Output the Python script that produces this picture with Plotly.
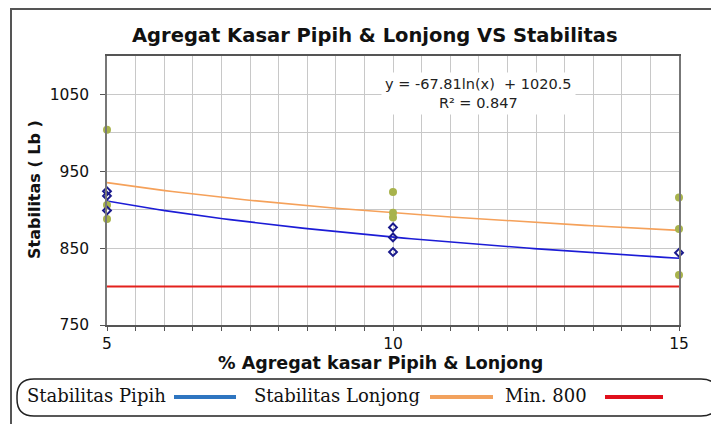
import numpy as np
import plotly.graph_objects as go

# ---- data ----
pipih_x = [5, 5, 5, 10, 10, 10, 15]
pipih_y = [924, 918, 899, 877, 864, 845, 844]
lonjong_x = [5, 5, 5, 10, 10, 10, 15, 15, 15]
lonjong_y = [1004, 906, 888, 923, 896, 890, 916, 875, 815]
min_x = [5, 15]
min_y = [800, 800]
# displayed trendline equation (Stabilitas Pipih)
pipih_a = -67.81
pipih_b = 1020.5
pipih_r2 = 0.847
x_ticks = [5, 10, 15]
y_ticks = [750, 850, 950, 1050]

# Lonjong log trendline fitted from its points
lon_a, lon_b = np.polyfit(np.log(lonjong_x), lonjong_y, 1)
xf = np.linspace(5, 15, 80)

# ---- layout geometry (screen pixels; page body has an 8px margin) ----
OFF = 8
SCR_W, SCR_H = 719, 424
L, R, T, B = 107, 679, 56, 325
PW, PH = R - L, B - T


def px(xp):
    return (xp - L) / PW


def py(yp):
    return (B - yp) / PH


SANS = "DejaVu Sans, Arial, sans-serif"
SERIF = "DejaVu Serif, Liberation Serif, serif"

fig = go.Figure()
fig.add_trace(go.Scatter(x=min_x, y=min_y, mode="lines",
                         line=dict(color="#E3211C", width=2), showlegend=False))
fig.add_trace(go.Scatter(x=xf, y=lon_a * np.log(xf) + lon_b, mode="lines",
                         line=dict(color="#F5A15A", width=1.6), showlegend=False))
fig.add_trace(go.Scatter(x=xf, y=pipih_a * np.log(xf) + pipih_b, mode="lines",
                         line=dict(color="#1C1CD6", width=1.6), showlegend=False))
fig.add_trace(go.Scatter(x=lonjong_x, y=lonjong_y, mode="markers", cliponaxis=False,
                         marker=dict(symbol="circle", size=8, color="#A8B34C"),
                         showlegend=False))
fig.add_trace(go.Scatter(x=pipih_x, y=pipih_y, mode="markers", cliponaxis=False,
                         marker=dict(symbol="diamond-open", size=6, color="#1A1A8C",
                                     line=dict(width=2, color="#1A1A8C")),
                         showlegend=False))

axis_font = dict(family=SANS, size=15.5, color="#111")
fig.update_xaxes(range=[5, 15], tickvals=x_ticks, ticktext=[str(v) for v in x_ticks],
                 showgrid=True, gridcolor="#C8C8C8", gridwidth=1,
                 minor=dict(dtick=0.5, tick0=5, showgrid=True, gridcolor="#C8C8C8",
                            ticks="outside", ticklen=4, tickcolor="#555"),
                 ticks="outside", ticklen=4, tickcolor="#555",
                 showline=True, linecolor="#555", linewidth=1.5, mirror=True,
                 zeroline=False, tickfont=axis_font, ticklabelstandoff=0)
fig.update_yaxes(range=[750, 1100], tickvals=y_ticks, ticktext=[str(v) for v in y_ticks],
                 showgrid=True, gridcolor="#C8C8C8", gridwidth=1,
                 minor=dict(dtick=50, tick0=750, showgrid=True, gridcolor="#C8C8C8"),
                 ticks="outside", ticklen=5, tickcolor="#555",
                 showline=True, linecolor="#777", linewidth=1.5, mirror=True,
                 zeroline=False, tickfont=axis_font, ticklabelstandoff=8)

shapes = []
# outer chart border
shapes.append(dict(type="rect", xref="paper", yref="paper",
                   x0=px(11), x1=px(724), y0=py(430), y1=py(9),
                   line=dict(color="#555", width=2), layer="below"))
# rounded legend box
lx0, lx1, ly0, ly1, r = 17, 718, 379, 416, 17
path = (f"M {px(lx0 + r)},{py(ly0)} L {px(lx1 - r)},{py(ly0)} "
        f"Q {px(lx1)},{py(ly0)} {px(lx1)},{py(ly0 + r)} "
        f"L {px(lx1)},{py(ly1 - r)} Q {px(lx1)},{py(ly1)} {px(lx1 - r)},{py(ly1)} "
        f"L {px(lx0 + r)},{py(ly1)} Q {px(lx0)},{py(ly1)} {px(lx0)},{py(ly1 - r)} "
        f"L {px(lx0)},{py(ly0 + r)} Q {px(lx0)},{py(ly0)} {px(lx0 + r)},{py(ly0)} Z")
shapes.append(dict(type="path", xref="paper", yref="paper", path=path,
                   line=dict(color="#222", width=1.5)))
legend_items = [("Stabilitas Pipih", 25, 174, 236, "#2E75C0"),
                ("Stabilitas Lonjong", 252, 430, 493, "#F2A25E"),
                ("Min. 800", 503, 605, 663, "#E0101C")]
annotations = []
for name, tx, l0, l1, col in legend_items:
    shapes.append(dict(type="line", xref="paper", yref="paper",
                       x0=px(l0), x1=px(l1), y0=py(397), y1=py(397),
                       line=dict(color=col, width=4)))
    annotations.append(dict(text=name, xref="paper", yref="paper", x=px(tx), y=py(395),
                            xanchor="left", yanchor="middle", showarrow=False,
                            font=dict(family=SERIF, size=18, color="#111")))

annotations.append(dict(text="<b>Agregat Kasar Pipih & Lonjong VS Stabilitas</b>",
                        xref="paper", yref="paper", x=px(375), y=py(35),
                        xanchor="center", yanchor="middle", showarrow=False,
                        font=dict(family=SANS, size=19.5, color="#111")))
annotations.append(dict(text="<b>% Agregat kasar Pipih & Lonjong</b>",
                        xref="paper", yref="paper", x=px(380), y=py(363),
                        xanchor="center", yanchor="middle", showarrow=False,
                        font=dict(family=SANS, size=17.5, color="#111")))
annotations.append(dict(text="<b>Stabilitas ( Lb )</b>", textangle=-90,
                        xref="paper", yref="paper", x=px(34), y=py(190),
                        xanchor="center", yanchor="middle", showarrow=False,
                        font=dict(family=SANS, size=16, color="#111")))
annotations.append(dict(text=f"y = {pipih_a:.2f}ln(x)  + {pipih_b}<br>R² = {pipih_r2}",
                        xref="paper", yref="paper", x=px(478), y=py(93),
                        xanchor="center", yanchor="middle", showarrow=False,
                        bgcolor="white", borderpad=3,
                        font=dict(family=SANS, size=14.5, color="#222")))

fig.update_layout(width=SCR_W - OFF, height=SCR_H - OFF,
                  margin=dict(l=L - OFF, r=SCR_W - R, t=T - OFF, b=SCR_H - B),
                  paper_bgcolor="white", plot_bgcolor="white",
                  shapes=shapes, annotations=annotations, showlegend=False)

fig.write_html("out.html")
